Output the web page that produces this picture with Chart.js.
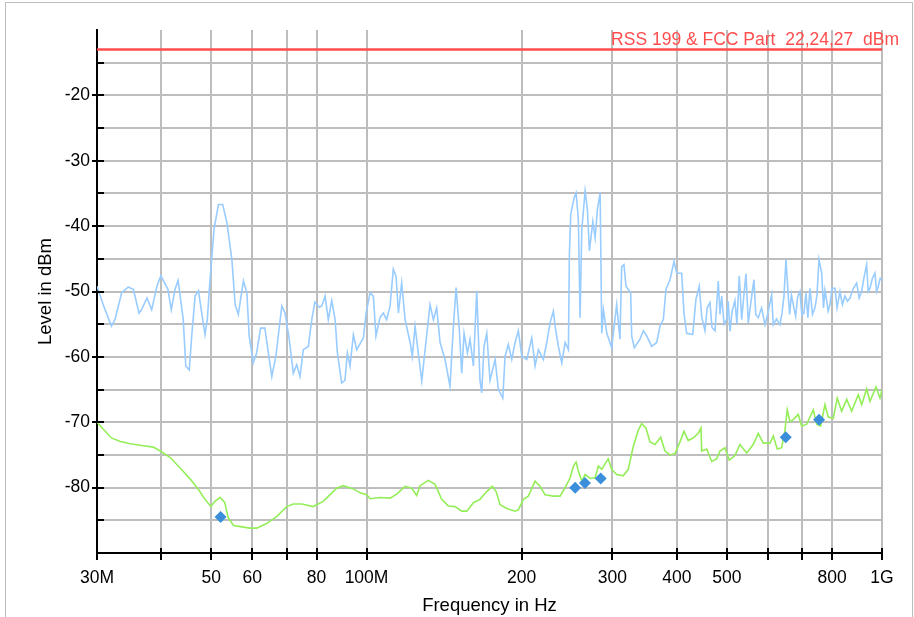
<!DOCTYPE html>
<html>
<head>
<meta charset="utf-8">
<script src="https://cdn.jsdelivr.net/npm/chart.js@4.4.0/dist/chart.umd.min.js"></script>
<style>
  html, body { margin: 0; padding: 0; background: #fff; overflow: hidden; }
  #wrap { position: relative; width: 914px; height: 617px; }
</style>
</head>
<body>
<div id="wrap"><canvas id="emiChart"></canvas></div>
<script>
// frequencies in MHz, levels in dBm
const blueFreq = [
  30.0, 30.9, 32.0, 32.5, 33.5, 34.5, 35.3, 36.2, 36.6, 37.5, 38.3, 39.2, 39.9, 41.2, 41.8, 42.5,
  43.1, 44.1, 44.6, 45.3, 45.8, 46.5, 47.2, 47.9, 48.6, 49.1, 49.7, 50.6, 51.6, 52.6, 53.6, 54.8,
  55.6, 56.4, 57.7, 58.6, 59.2, 60.3, 61.2, 62.3, 63.5, 64.5, 65.5, 66.7, 68.5, 69.5, 70.8, 72.1,
  73.2, 74.3, 75.4, 77.1, 78.3, 79.4, 81.0, 81.9, 83.1, 84.3, 85.6, 86.9, 87.8, 89.5, 90.8, 91.8,
  92.9, 94.3, 95.7, 98.6, 99.8, 101.6, 103.1, 104.3,
  106.2, 107.8, 109.4, 111.1, 112.7, 114.1, 115.3, 117.0, 118.8, 121.5, 122.7, 124.2, 126.0, 128.0,
  129.9, 132.8, 134.8, 136.8, 138.9, 142.0, 145.2, 147.4, 149.2, 151.4, 153.0, 154.6, 156.9, 158.8,
  161.2, 163.6, 166.0, 167.3, 169.0, 171.1, 173.6, 177.6, 180.2, 183.8, 185.7, 188.4, 191.3, 194.2,
  197.0, 200.1, 204.6, 209.2, 212.3, 215.5, 220.3, 223.7, 227.0, 230.4, 232.2, 235.6, 239.2, 242.8,
  246.4, 247.5, 249.0, 252.7, 255.0, 257.6, 259.6, 261.6, 265.5, 268.2, 270.6, 274.8, 277.6, 280.5,
  283.9, 286.0,
  288.1, 292.5, 298.9, 305.7, 310.2, 312.6, 315.8, 318.7, 325.4, 326.9, 330.7, 339.3, 344.3, 349.6,
  357.5, 365.5, 370.9, 376.5, 381.0, 387.9, 394.9, 399.7, 408.7, 412.9, 417.9, 429.3, 435.6, 442.1,
  446.9, 453.5, 458.0, 463.7, 468.0, 474.2, 481.3, 485.0, 488.6, 494.0, 499.6, 503.0, 507.1, 512.0,
  518.5, 523.0, 528.6, 534.3, 539.0, 544.6, 550.3, 557.0, 564.4, 569.0, 575.4, 584.0, 592.9, 600.0,
  610.9, 615.3, 624.0, 634.0, 640.0, 645.4, 651.2, 657.9, 662.0, 667.0, 672.8, 680.0, 686.0, 693.2,
  699.0, 705.7, 712.0, 718.0, 724.9, 733.0, 741.2, 748.0, 754.6, 763.7, 770.0, 775.0, 781.0, 786.0,
  792.6, 800.0, 810.5, 818.0, 828.8, 838.0, 847.5, 857.0, 866.7, 880.0, 893.0, 903.0, 913.2, 922.0,
  933.8, 940.0, 947.7, 958.0, 969.1, 976.0, 983.5, 992.0, 1000
];
const blueLevel = [
  -49.2, -52.2, -55.3, -54.3, -50.2, -49.3, -49.7, -53.3, -52.8, -51.0, -52.8, -49.2, -47.6, -49.7, -52.8, -49.7,
  -48.3, -54.3, -61.4, -62.0, -56.8, -50.7, -49.9, -53.3, -56.6, -54.3, -48.2, -40.5, -36.7, -36.7, -39.5, -45.1,
  -52.0, -53.5, -48.4, -50.2, -56.8, -60.9, -59.4, -55.6, -55.6, -59.4, -63.0, -59.9, -52.2, -53.3, -57.3, -62.5,
  -61.2, -63.0, -58.9, -58.4, -54.3, -51.6, -52.4, -52.2, -50.7, -54.3, -51.4, -54.3, -59.4, -64.0, -63.6, -59.4,
  -61.4, -56.6, -58.9, -57.1, -53.3, -50.2, -50.7, -56.8,
  -54.0, -53.3, -54.3, -52.2, -46.6, -47.7, -53.3, -48.7, -54.3, -57.8, -59.9, -55.3, -59.4, -63.7,
  -58.9, -52.0, -54.3, -52.5, -57.8, -60.4, -64.5, -55.3, -49.4, -56.0, -62.5, -56.4, -59.4, -57.3,
  -61.4, -49.9, -63.6, -65.5, -58.4, -56.4, -63.6, -60.4, -65.0, -66.3, -59.9, -58.1, -60.4, -57.8,
  -56.0, -59.9, -60.4, -57.1, -61.4, -58.9, -60.4, -57.8, -54.8, -53.0, -55.3, -58.4, -60.9, -57.8,
  -58.9, -44.1, -38.2, -35.7, -34.9, -39.0, -54.0, -40.5, -34.6, -37.4, -43.8, -39.3, -41.8, -37.4,
  -34.9, -56.4,
  -52.8, -56.4, -58.6, -52.0, -57.3, -46.2, -45.9, -49.2, -50.2, -56.8, -58.6, -57.3, -56.0, -56.8,
  -58.4, -57.8, -55.3, -54.3, -49.7, -48.2, -45.4, -47.2, -47.2, -53.3, -56.4, -56.6, -51.2, -49.2,
  -53.9, -56.0, -52.5, -51.7, -55.5, -56.0, -48.4, -53.5, -50.7, -55.0, -54.3, -51.5, -56.1, -53.0,
  -51.4, -55.0, -47.6, -54.3, -51.0, -47.3, -54.8, -51.5, -48.2, -53.5, -54.0, -52.5, -55.1, -53.5,
  -50.5, -55.1, -54.2, -55.1, -53.2, -50.7, -45.1, -50.7, -53.5, -50.5, -52.0, -53.8, -50.8, -50.0,
  -53.6, -53.3, -50.2, -54.0, -49.5, -53.5, -52.5, -50.5, -45.1, -47.2, -52.5, -49.8, -51.4, -53.0,
  -52.0, -49.5, -49.5, -52.5, -50.0, -52.0, -50.7, -51.5, -51.0, -49.5, -48.7, -51.0, -50.0, -48.0,
  -45.9, -50.0, -49.5, -48.0, -47.2, -50.0, -49.2, -48.0, -48.2
];

const greenFreq = [
  30.0, 30.9, 32.0, 33.2, 34.8, 36.9, 38.6, 39.8, 41.6, 43.5, 45.5, 47.2, 48.6, 49.9, 50.8, 52.0,
  53.1, 53.9, 55.2, 57.3, 59.4, 61.2, 64.0, 67.0, 70.0, 72.1, 74.9, 78.8, 82.4, 84.9, 87.5, 90.1,
  94.3, 97.2, 100.1, 101.6, 106.2, 111.1, 114.4, 118.8, 122.4, 125.1, 127.0, 131.8, 135.8, 139.9,
  144.1, 148.5, 153.0, 156.5, 161.2, 166.0, 171.1, 175.4, 178.4, 181.6, 187.1, 194.2, 197.0, 201.5,
  206.0, 212.3, 217.1, 222.0, 230.4, 237.4, 242.8, 248.3, 252.0, 255.0, 257.6, 261.6, 265.5, 271.5,
  277.6, 281.7, 286.0, 290.0, 294.4, 298.9, 305.7, 314.8, 321.9, 329.2, 336.7, 341.9, 348.5, 354.7,
  362.8, 372.1, 379.3, 387.9, 396.7, 405.6, 412.9, 420.9, 430.4, 440.1, 445.5, 446.9, 457.0, 467.3,
  477.8, 484.9, 495.9, 505.5, 518.5, 530.2, 546.3, 562.6, 575.4, 588.4, 606.3, 615.3, 626.3, 638.8,
  648.3, 655.0, 662.9, 672.8, 687.9, 698.5, 714.2, 735.6, 746.9, 760.4, 775.1, 786.6, 804.4, 818.9,
  835.1, 854.0, 873.3, 899.4, 913.2, 933.8, 947.7, 973.4, 991.0, 1000
];
const greenLevel = [
  -70.0, -71.1, -72.4, -72.9, -73.3, -73.6, -73.8, -74.4, -75.4, -77.0, -78.7, -80.3, -81.8, -82.9, -82.1, -81.5,
  -82.3, -84.6, -85.8, -86.0, -86.2, -86.2, -85.5, -84.4, -82.9, -82.5, -82.5, -82.9, -82.1, -81.1, -80.1, -79.7,
  -80.2, -80.8, -81.1, -81.7, -81.5, -81.6, -81.0, -79.8, -80.1, -81.2, -79.7, -78.9, -79.5, -81.8,
  -82.8, -82.9, -83.6, -83.6, -82.3, -81.8, -80.6, -79.8, -80.6, -82.6, -83.2, -83.6, -83.4, -81.8,
  -81.3, -79.0, -79.8, -81.1, -81.3, -81.3, -80.0, -78.5, -76.7, -76.1, -77.5, -79.0, -78.0, -78.6,
  -78.5, -76.7, -77.2, -76.4, -75.6, -77.2, -78.0, -78.2, -77.2, -73.7, -71.2, -70.2, -70.9, -73.0,
  -73.4, -72.3, -74.4, -75.0, -74.8, -73.0, -71.4, -72.8, -72.4, -71.7, -70.9, -74.4, -74.1, -76.0,
  -75.6, -74.4, -73.9, -75.8, -75.1, -73.4, -74.7, -73.4, -71.7, -73.2, -73.2, -72.1, -74.1, -73.9,
  -71.2, -68.1, -69.9, -69.6, -68.8, -70.6, -70.3, -68.1, -70.3, -70.6, -67.3, -69.2, -69.4, -66.3,
  -68.3, -66.5, -68.3, -65.8, -67.3, -64.9, -66.8, -64.6, -66.3, -65.0
];

const markerFreq = [52.1, 254.0, 265.3, 284.6, 650.5, 755.0];
const markerLevel = [-84.5, -80.0, -79.3, -78.6, -72.3, -69.6];

const limitFreq = [30, 1000];
const limitLevel = [-13, -13];
const limitLabel = 'RSS 199 & FCC Part  22,24,27  dBm';

const xTickValues = [30, 40, 50, 60, 70, 80, 100, 200, 300, 400, 500, 600, 700, 800, 1000];
const xTickLabels = ['30M', '', '50', '60', '', '80', '100M', '200', '300', '400', '500', '', '', '800', '1G'];

function toPoints(xs, ys) {
  return xs.map((x, i) => ({ x: x, y: ys[i] }));
}

const FONT = 'Arial, "Liberation Sans", sans-serif';
const GRID = '#bdbdbd';

// page frame, red limit label and the inner halves of the tick marks
const decorPlugin = {
  id: 'decor',
  beforeDraw(chart) {
    const ctx = chart.ctx;
    ctx.save();
    ctx.strokeStyle = '#bdbdbd';
    ctx.lineWidth = 1;
    ctx.strokeRect(5.5, 2.5, 907, 700);
    ctx.restore();
  },
  afterDraw(chart) {
    const { ctx, chartArea, scales: { x, y } } = chart;
    ctx.save();
    ctx.strokeStyle = '#000';
    ctx.lineWidth = 2;
    ctx.beginPath();
    y.ticks.forEach(t => {
      if (t.value <= -90 || t.value >= -10) return;
      const py = Math.round(y.getPixelForValue(t.value));
      ctx.moveTo(chartArea.left, py);
      ctx.lineTo(chartArea.left + 7, py);
    });
    x.ticks.forEach(t => {
      const px = Math.round(x.getPixelForValue(t.value));
      ctx.moveTo(px, chartArea.bottom);
      ctx.lineTo(px, chartArea.bottom - 5);
    });
    ctx.stroke();

    ctx.fillStyle = '#ff4d4d';
    ctx.font = '17.5px ' + FONT;
    ctx.textAlign = 'right';
    ctx.textBaseline = 'alphabetic';
    ctx.fillText(limitLabel, chartArea.right + 17, y.getPixelForValue(limitLevel[0]) - 4.5);
    ctx.restore();
  }
};

new Chart(document.getElementById('emiChart'), {
  type: 'line',
  data: {
    datasets: [
      {
        label: 'Limit',
        data: toPoints(limitFreq, limitLevel),
        borderColor: '#ff4d4d',
        borderWidth: 2.5,
        pointRadius: 0
      },
      {
        label: 'Markers',
        type: 'scatter',
        data: toPoints(markerFreq, markerLevel),
        pointStyle: 'rectRot',
        pointRadius: 6,
        backgroundColor: '#3b8fda',
        borderColor: '#3b8fda',
        borderWidth: 0
      },
      {
        label: 'Peak',
        data: toPoints(blueFreq, blueLevel),
        borderColor: '#99ccff',
        borderWidth: 1.6,
        pointRadius: 0
      },
      {
        label: 'Average',
        data: toPoints(greenFreq, greenLevel),
        borderColor: '#94ee58',
        borderWidth: 1.6,
        pointRadius: 0
      }
    ]
  },
  options: {
    responsive: true,
    maintainAspectRatio: false,
    animation: false,
    layout: { padding: { top: 30, right: 32, left: 0, bottom: 0 } },
    plugins: {
      legend: { display: false },
      tooltip: { enabled: false }
    },
    scales: {
      x: {
        type: 'logarithmic',
        min: 30,
        max: 1000,
        afterBuildTicks: scale => {
          scale.ticks = xTickValues.map(v => ({ value: v }));
        },
        afterFit: scale => { scale.height = 64; },
        ticks: {
          autoSkip: false,
          maxRotation: 0,
          padding: 8,
          color: '#000',
          font: { family: FONT, size: 17.5 },
          callback: value => {
            const i = xTickValues.indexOf(value);
            return i >= 0 ? xTickLabels[i] : '';
          }
        },
        grid: {
          color: GRID,
          lineWidth: 2,
          tickColor: '#000',
          tickLength: 7,
          tickWidth: 2
        },
        border: { color: '#000', width: 2 },
        title: {
          display: true,
          text: 'Frequency in Hz',
          color: '#000',
          font: { family: FONT, size: 18.5 },
          padding: { top: 0, bottom: 0 }
        }
      },
      y: {
        min: -90,
        max: -10,
        afterFit: scale => { scale.width = 97; },
        ticks: {
          stepSize: 5,
          padding: 2,
          color: '#000',
          font: { family: FONT, size: 17.5 },
          callback: value => (value % 10 === 0 && value > -90 && value < -10) ? String(value) : ''
        },
        grid: {
          color: ctx => (ctx.tick && ctx.tick.value === -10) ? 'rgba(0,0,0,0)' : GRID,
          lineWidth: 2,
          tickColor: ctx => (ctx.tick && ctx.tick.value % 10 === 0 && ctx.tick.value > -90 && ctx.tick.value < -10) ? '#000' : 'rgba(0,0,0,0)',
          tickLength: 5,
          tickWidth: 2
        },
        border: { color: '#000', width: 2 },
        title: {
          display: true,
          text: 'Level in dBm',
          color: '#000',
          font: { family: FONT, size: 18.5 },
          padding: { top: 35, bottom: 0 }
        }
      }
    }
  },
  plugins: [decorPlugin]
});
</script>
</body>
</html>
